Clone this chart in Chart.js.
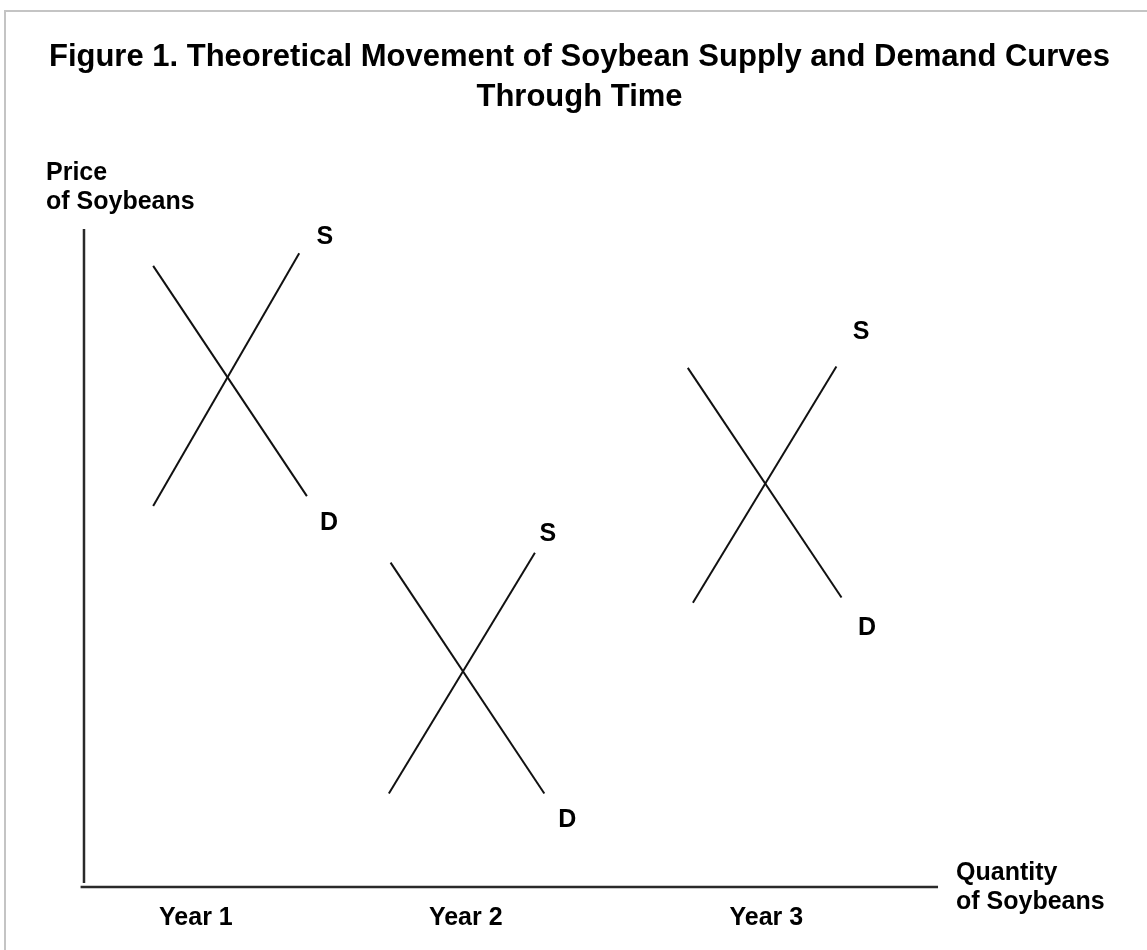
<!DOCTYPE html>
<html>
<head>
<meta charset="utf-8">
<title>Soybean supply and demand through time</title>
<script src="https://cdn.jsdelivr.net/npm/chart.js@4.4.1/dist/chart.umd.min.js"></script>
<style>
  html, body { margin: 0; padding: 0; background: #fff; overflow: hidden; }
  #frame { position: absolute; left: 4px; top: 10px; width: 1200px; height: 1000px; border: 2px solid #c4c4c4; }
  #chart { position: absolute; left: 0; top: 0; }
</style>
</head>
<body>
<div id="frame"></div>
<canvas id="chart" width="1147" height="950"></canvas>
<script>
// Quantity on x, price on y (arbitrary units, axis runs 0..100)
const years = ["Year 1", "Year 2", "Year 3"];
const yearCenters = [13.1, 44.7, 79.9];

const supply1 = [{ x: 8.1, y: 57.9 }, { x: 25.2, y: 96.3 }];
const demand1 = [{ x: 8.1, y: 94.4 }, { x: 26.1, y: 59.4 }];
const supply2 = [{ x: 35.7, y: 14.2 }, { x: 52.8, y: 50.8 }];
const demand2 = [{ x: 35.9, y: 49.3 }, { x: 53.9, y: 14.2 }];
const supply3 = [{ x: 71.3, y: 43.2 }, { x: 88.1, y: 79.1 }];
const demand3 = [{ x: 70.7, y: 78.9 }, { x: 88.7, y: 44.0 }];

// where the S / D tags sit
const supplyTags = [{ x: 28.2, y: 98.8 }, { x: 54.3, y: 53.6 }, { x: 91.0, y: 84.3 }];
const demandTags = [{ x: 28.7, y: 55.3 }, { x: 56.6, y: 10.2 }, { x: 91.7, y: 39.4 }];

const priceAxis = [{ x: 0, y: 0.6 }, { x: 0, y: 100 }];
const quantityAxis = [{ x: -0.4, y: 0 }, { x: 100, y: 0 }];

const FONT = "'Liberation Sans', Arial, sans-serif";

const curve = (data) => ({
  data,
  showLine: true,
  borderColor: "#111",
  borderWidth: 2,
  pointRadius: 0,
  clip: false
});

const axisLine = (data) => ({
  data,
  showLine: true,
  borderColor: "#2a2a2a",
  borderWidth: 2.5,
  pointRadius: 0,
  clip: false
});

// ----- text: axis names, years, S / D tags -----
const labelsPlugin = {
  id: "labels",
  afterDraw(chart) {
    const { ctx, scales: { x, y } } = chart;
    const x0 = x.getPixelForValue(0);
    const y0 = y.getPixelForValue(0);
    const xEnd = x.getPixelForValue(100);
    const yTop = y.getPixelForValue(100);

    ctx.save();
    ctx.fillStyle = "#000";
    ctx.font = "bold 25px " + FONT;
    ctx.textBaseline = "middle";

    ctx.textAlign = "left";
    ctx.fillText("Price", x0 - 38, yTop - 56);
    ctx.fillText("of Soybeans", x0 - 38, yTop - 27);
    ctx.fillText("Quantity", xEnd + 18, y0 - 14);
    ctx.fillText("of Soybeans", xEnd + 18, y0 + 15);

    ctx.textAlign = "center";
    years.forEach((yr, i) => {
      ctx.fillText(yr, x.getPixelForValue(yearCenters[i]), y0 + 31);
    });
    supplyTags.forEach(p => ctx.fillText("S", x.getPixelForValue(p.x), y.getPixelForValue(p.y)));
    demandTags.forEach(p => ctx.fillText("D", x.getPixelForValue(p.x), y.getPixelForValue(p.y)));
    ctx.restore();
  }
};

new Chart(document.getElementById("chart"), {
  type: "scatter",
  data: {
    datasets: [
      axisLine(priceAxis),
      axisLine(quantityAxis),
      curve(supply1), curve(demand1),
      curve(supply2), curve(demand2),
      curve(supply3), curve(demand3)
    ]
  },
  options: {
    responsive: false,
    animation: false,
    events: [],
    layout: { padding: { left: 12, right: 0, top: 10, bottom: 10.36 } },
    scales: {
      x: { type: "linear", min: -8.43, max: 124.47, display: false },
      y: { type: "linear", min: -8, max: 102, display: false }
    },
    plugins: {
      legend: { display: false },
      tooltip: { enabled: false },
      title: {
        display: true,
        text: ["Figure 1. Theoretical Movement of Soybean Supply and Demand Curves", "Through Time"],
        color: "#000",
        font: { family: FONT, size: 31, weight: "bold", lineHeight: 1.3 },
        padding: { top: 27.5, bottom: 97.74 }
      }
    }
  },
  plugins: [labelsPlugin]
});
</script>
</body>
</html>
